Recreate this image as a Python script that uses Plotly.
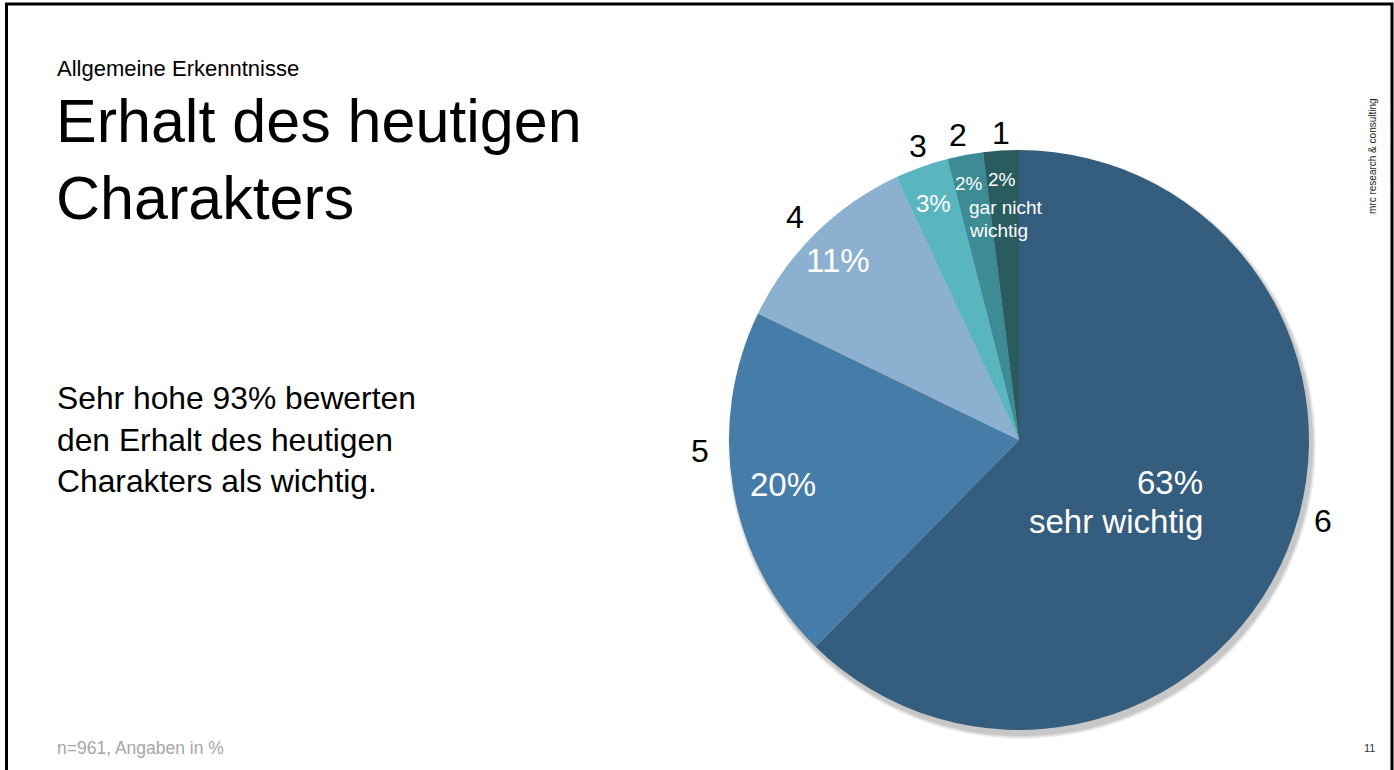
import plotly.graph_objects as go

# data
stufen = ["6", "5", "4", "3", "2", "1"]
anteile = [63, 20, 11, 3, 2, 2]
farben = ["#355e7e", "#467ca8", "#8cb0d0", "#59b5bf", "#3c8b95", "#2a5b5f"]

W, H = 1394, 770


def px(x):
    return x / W


def py(y):
    return 1 - y / H


def text(t, x, y, size, color="black", anchor="left", font="Liberation Sans", **kw):
    fig.add_annotation(text=t, x=px(x), y=py(y), xref="paper", yref="paper",
                       xanchor=anchor, yanchor="middle", align=anchor, showarrow=False,
                       font=dict(family=font, size=size, color=color), **kw)


fig = go.Figure()

# soft shadow behind the pie
cx, cy, r = 1019, 440, 290
for i, op in enumerate([0.05, 0.05, 0.06, 0.07]):
    grow = 4 - i
    fig.add_shape(type="circle", xref="paper", yref="paper", layer="below",
                  x0=px(cx - r + 3 - grow), x1=px(cx + r + 3 + grow),
                  y0=py(cy + r + 5 + grow), y1=py(cy - r + 5 - grow),
                  fillcolor=f"rgba(0,0,0,{op})", line_width=0)

fig.add_trace(go.Pie(
    labels=stufen, values=anteile, sort=False, direction="clockwise", rotation=0,
    marker=dict(colors=farben, line=dict(width=0)),
    textinfo="none", hoverinfo="label+value", showlegend=False,
    domain=dict(x=[px(cx - r), px(cx + r)], y=[py(cy + r), py(cy - r)]),
))

# labels inside the slices
pct = [f"{v}%" for v in anteile]
text(pct[0], 1205, 482, 33, "white", "right")
text("sehr wichtig", 1205, 521, 33, "white", "right")
text(pct[1], 783, 484, 33, "white", "center")
text(pct[2], 838, 260, 33, "white", "center")
text(pct[3], 933, 203, 24, "white", "center")
text(pct[4], 969, 183, 19, "white", "center")
text(pct[5], 1002, 180, 19, "white", "center")
text("gar nicht", 967, 208, 19, "white")
text("wichtig", 967, 230, 19, "white")

# scale points outside
outside = {"1": (1001, 133), "2": (958, 135), "3": (918, 146), "4": (795, 217),
           "5": (700, 451), "6": (1323, 521)}
for s in stufen:
    x, y = outside[s]
    text(s, x, y, 32, "black", "center")

# slide texts
text("Allgemeine Erkenntnisse", 55, 68, 22)
text("Erhalt des heutigen", 54, 121, 61)
text("Charakters", 54, 198, 61)
for i, line in enumerate(["Sehr hohe 93% bewerten", "den Erhalt des heutigen",
                          "Charakters als wichtig."]):
    text(line, 55, 398 + i * 41.5, 31.8)
text("n=961, Angaben in %", 55, 748, 17.5, "#a6a6a6")
text("11", 1369, 748, 11, "#333333", "center")
text("mrc research &amp; consulting", 1372, 156, 10, "#222222", "center", textangle=-90)

# slide border
fig.add_shape(type="rect", xref="paper", yref="paper", x0=px(6.5), x1=px(1392), y0=py(790), y1=py(4),
              line=dict(color="black", width=3), layer="above")

fig.update_layout(width=W, height=H, margin=dict(l=0, r=0, t=0, b=0),
                  paper_bgcolor="white", plot_bgcolor="white")

fig.write_html("out.html", config={"displayModeBar": False},
               post_script="document.body.style.margin='0';")
